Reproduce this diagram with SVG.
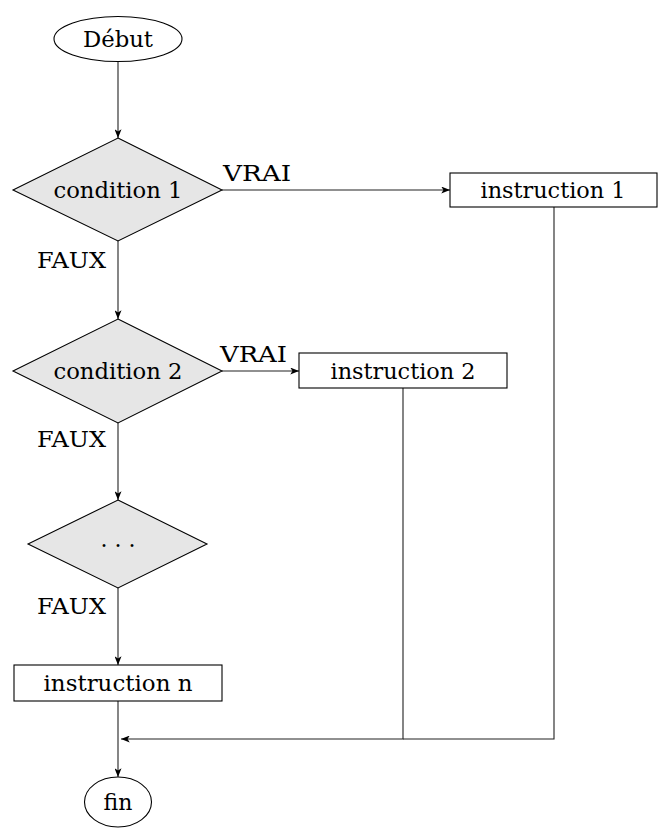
<svg xmlns="http://www.w3.org/2000/svg" width="659" height="829" viewBox="0 0 659 829">
<style>
text{font-family:"DejaVu Serif",serif;font-size:22px;fill:#000}
.m{text-anchor:middle}
.shape{stroke:#000;stroke-width:1.1;fill:#fff}
.dia{stroke:#000;stroke-width:1.1;fill:#e6e6e6}
.c{stroke:#222;stroke-width:1.1;fill:none}
</style>
<defs>
<marker id="ah" viewBox="0 0 10 8" refX="10" refY="4" markerWidth="9" markerHeight="7" markerUnits="userSpaceOnUse" orient="auto">
<path d="M0,0 L10,4 L0,8 L2.5,4 Z" fill="#000"/>
</marker>
</defs>
<rect width="659" height="829" fill="#fff"/>
<g id="connectors">
<line class="c" x1="118" y1="61" x2="118" y2="138" marker-end="url(#ah)"/>
<line class="c" x1="118" y1="241" x2="118" y2="319" marker-end="url(#ah)"/>
<line class="c" x1="118" y1="423" x2="118" y2="500" marker-end="url(#ah)"/>
<line class="c" x1="118" y1="588" x2="118" y2="665" marker-end="url(#ah)"/>
<line class="c" x1="118" y1="701" x2="118" y2="777" marker-end="url(#ah)"/>
<line class="c" x1="222" y1="190" x2="450" y2="190" marker-end="url(#ah)"/>
<line class="c" x1="222" y1="371" x2="299" y2="371" marker-end="url(#ah)"/>
<polyline class="c" points="554,207 554,739 403,739"/>
<polyline class="c" points="403,388 403,739 121,739" marker-end="url(#ah)"/>
<text x="223" y="181" textLength="68" lengthAdjust="spacingAndGlyphs">VRAI</text>
<text x="220" y="362" textLength="67" lengthAdjust="spacingAndGlyphs">VRAI</text>
<text x="37" y="268" textLength="69" lengthAdjust="spacingAndGlyphs">FAUX</text>
<text x="37" y="447" textLength="69" lengthAdjust="spacingAndGlyphs">FAUX</text>
<text x="37" y="614" textLength="69" lengthAdjust="spacingAndGlyphs">FAUX</text>
</g>
<g id="debut">
<ellipse class="shape" cx="118" cy="39" rx="64" ry="22.5"/>
<text class="m" x="118" y="47" textLength="70" lengthAdjust="spacingAndGlyphs">Début</text>
</g>
<g id="condition1">
<polygon class="dia" points="118,138 222,190 118,241 13,190"/>
<text class="m" x="118" y="198" textLength="129" lengthAdjust="spacingAndGlyphs">condition 1</text>
</g>
<g id="instruction1">
<rect class="shape" x="450" y="173" width="207" height="34"/>
<text class="m" x="553" y="198" textLength="145" lengthAdjust="spacingAndGlyphs">instruction 1</text>
</g>
<g id="condition2">
<polygon class="dia" points="118,319 222,371 118,423 13,371"/>
<text class="m" x="118" y="379" textLength="129" lengthAdjust="spacingAndGlyphs">condition 2</text>
</g>
<g id="instruction2">
<rect class="shape" x="299" y="353" width="208" height="35"/>
<text class="m" x="403" y="379" textLength="145" lengthAdjust="spacingAndGlyphs">instruction 2</text>
</g>
<g id="condition3">
<polygon class="dia" points="118,500 207,544 118,588 28,544"/>
<text class="m" x="118" y="547">. . .</text>
</g>
<g id="instructionn">
<rect class="shape" x="14" y="665" width="208" height="36"/>
<text class="m" x="118" y="691" textLength="149" lengthAdjust="spacingAndGlyphs">instruction n</text>
</g>
<g id="fin">
<ellipse class="shape" cx="118" cy="802" rx="33.5" ry="25"/>
<text class="m" x="118" y="810">fin</text>
</g>
</svg>
